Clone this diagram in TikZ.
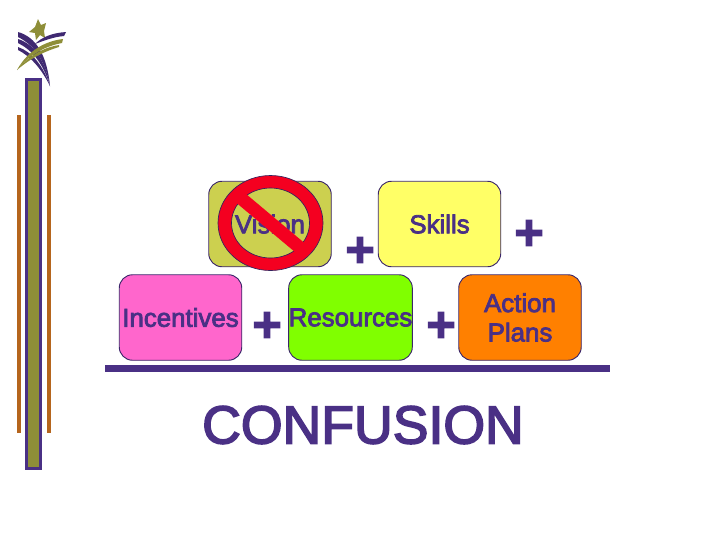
\documentclass[tikz,border=0pt]{standalone}
\usepackage{fontspec}
\setmainfont{Liberation Sans}
\newfontfamily\boxfont[FakeBold=3]{Liberation Sans}
\newfontfamily\plusfont[FakeBold=2]{Liberation Sans Bold}
\usepackage{tikz}
\definecolor{deeppurple}{HTML}{4A3085}
\definecolor{olivebar}{HTML}{8E8E38}
\definecolor{rustbar}{HTML}{B5651D}
\definecolor{visionfill}{HTML}{CCD04F}
\definecolor{skillsfill}{HTML}{FFFF66}
\definecolor{incentivesfill}{HTML}{FF66CC}
\definecolor{resourcesfill}{HTML}{80FF00}
\definecolor{actionfill}{HTML}{FF8000}
\definecolor{signred}{HTML}{F40020}
\newdimen\pxu
\pxu=.75pt
\tikzset{
  block/.style={draw=deeppurple!80!black,line width=.7pt,rounded corners=10pt,minimum width=122.5\pxu,
    minimum height=85.5\pxu,inner sep=0pt,outer sep=0pt,align=center,text=deeppurple,
    font=\fontsize{19.4}{22}\boxfont},
  plussign/.style={text=deeppurple,inner sep=0pt,font=\fontsize{38}{38}\plusfont},
  swoosh/.style={fill=deeppurple!85!black,draw=none},
  leaf/.style={fill=olivebar,draw=none}
}
\begin{document}
\begin{tikzpicture}[x=.75pt,y=-.75pt]
  \useasboundingbox (0,0) rectangle (720,540);

  % left strip
  \fill[rustbar] (17,115) rectangle (20.5,433);
  \fill[rustbar] (47,115) rectangle (50.5,433);
  \draw[deeppurple,line width=2.2pt,fill=olivebar] (26.5,79.5) rectangle (40.5,468.5);

  % logo
  \fill[leaf] (38,19) -- (41,25) -- (46,23) -- (44,31) -- (45,38) -- (40,35) -- (36,40) -- (35,33) -- (29,32) -- (35,27) -- cycle;
  \fill[swoosh] (18,32) .. controls (36,37) and (47,55) .. (50,86) .. controls (45,60) and (34,45) .. (18,37) -- cycle;
  \fill[swoosh] (18,39) .. controls (34,44) and (45,60) .. (50,86) .. controls (43,63) and (32,50) .. (18,43) -- cycle;
  \fill[swoosh] (18,47) .. controls (32,52) and (43,65) .. (50,86) .. controls (41,68) and (30,56) .. (18,50) -- cycle;
  \fill[swoosh] (66,32) .. controls (52,33) and (42,37) .. (35,44) .. controls (43,41) and (53,37) .. (64,36) -- cycle;
  \fill[leaf] (63,39) .. controls (46,41) and (28,50) .. (17,70) .. controls (30,54) and (46,46) .. (62,43) -- cycle;
  \fill[leaf] (59,45) .. controls (46,47) and (30,54) .. (17,70) .. controls (32,57) and (46,51) .. (59,47) -- cycle;

  % boxes
  \node[block,fill=visionfill] (vision) at (270,224) {Vision};
  \node[block,fill=skillsfill] (skills) at (439.5,224) {Skills};
  \node[block,fill=incentivesfill] (incentives) at (180.5,317.5) {Incentives};
  \node[block,fill=resourcesfill] (resources) at (350.5,317.5) {Resources};
  \node[block,fill=actionfill] (action) at (520,317.5) {Action\\Plans};

  % plus signs
  \node[plussign] (plusa) at (360,252) {+};
  \node[plussign] (plusb) at (529,235) {+};
  \node[plussign] (plusc) at (267,327) {+};
  \node[plussign] (plusd) at (441,327) {+};

  % no sign over vision
  \fill[signred,draw=deeppurple!70!black,line width=.5pt,even odd rule]
    (270.5,223) ellipse [x radius=52.5,y radius=47.5]
    (270.5,223) ellipse [x radius=39,y radius=35];
  \fill[signred,rotate around={-40:(270.5,223)}] (226,216.5) rectangle (315,229.5);

  % rule and result
  \fill[deeppurple] (105,365) rectangle (610,372);
  \node[text=deeppurple,inner sep=0pt,font=\fontsize{40.2}{40}\boxfont] (result) at (363,425) {CONFUSION};
\end{tikzpicture}
\end{document}
